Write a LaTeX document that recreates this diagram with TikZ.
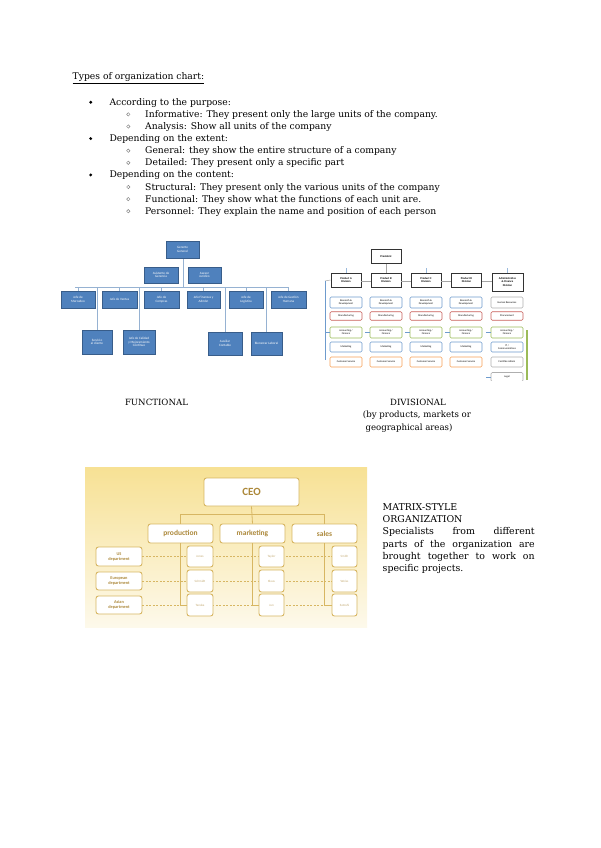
\documentclass[tikz,border=0pt]{standalone}
\usepackage{fontspec}
\setmainfont{DejaVu Serif}
\newfontfamily\chartfont{Carlito}
\usetikzlibrary{positioning,calc}
\definecolor{FuncBlue}{RGB}{79,129,189}
\definecolor{FuncEdge}{RGB}{56,93,138}
\definecolor{FuncLine}{RGB}{150,178,210}
\definecolor{DivLine}{RGB}{165,165,165}
\definecolor{DivBlue}{RGB}{110,155,205}
\definecolor{DivRed}{RGB}{200,95,90}
\definecolor{DivGreen}{RGB}{155,187,89}
\definecolor{DivOrange}{RGB}{247,160,85}
\definecolor{DivGray}{RGB}{175,175,175}
\definecolor{MatrixGold}{RGB}{215,182,98}
\definecolor{MatrixText}{RGB}{172,136,58}
\definecolor{MatrixTop}{RGB}{247,225,148}
\definecolor{MatrixBottom}{RGB}{253,249,235}
\tikzset{
  bodytext/.style={anchor=base west,inner sep=0pt,font=\fontsize{9.2}{12.1}\selectfont},
  funcbox/.style={draw=FuncEdge,fill=FuncBlue,text=white,align=center,inner sep=0.5pt,
    font=\chartfont\fontsize{3.3}{3.7}\selectfont},
  funcline/.style={FuncLine,line width=0.8pt},
  divhead/.style={draw=black!80,line width=0.9pt,fill=white,align=center,inner sep=0.3pt,
    minimum width=30,minimum height=14,font=\chartfont\bfseries\fontsize{2.8}{3.1}\selectfont},
  divunit/.style={draw=#1,line width=0.6pt,rounded corners=1.2pt,fill=white,align=center,
    inner sep=0.2pt,minimum width=32,font=\chartfont\fontsize{2.6}{2.9}\selectfont},
  divline/.style={DivLine,line width=0.5pt},
  mxbox/.style={draw=MatrixGold,line width=0.9pt,rounded corners=2.5pt,fill=white,
    text=MatrixText,align=center,inner sep=0.5pt,font=\chartfont\bfseries},
  mxline/.style={MatrixGold,line width=0.8pt}
}
\begin{document}
\begin{tikzpicture}[x=1pt,y=-1pt]
\useasboundingbox (0,0) rectangle (600,848);

\node[bodytext] (title) at (72.5,79.5) {\underline{Types of organization chart:}};
\fill (90.7,102.3) circle (1.6pt);
\node[bodytext] (purpose) at (109.3,105.3) {According to the purpose:};
\draw[gray,line width=0.45pt] (128.3,114.4) circle (1.7pt);
\node[bodytext] (informative) at (145,117.4) {Informative: They present only the large units of the company.};
\draw[gray,line width=0.45pt] (128.3,126.5) circle (1.7pt);
\node[bodytext] (analysis) at (145,129.5) {Analysis: Show all units of the company};
\fill (90.7,138.6) circle (1.6pt);
\node[bodytext] (extent) at (109.3,141.6) {Depending on the extent:};
\draw[gray,line width=0.45pt] (128.3,150.7) circle (1.7pt);
\node[bodytext] (general) at (145,153.7) {General: they show the entire structure of a company};
\draw[gray,line width=0.45pt] (128.3,162.8) circle (1.7pt);
\node[bodytext] (detailed) at (145,165.8) {Detailed: They present only a specific part};
\fill (90.7,174.9) circle (1.6pt);
\node[bodytext] (content) at (109.3,177.9) {Depending on the content:};
\draw[gray,line width=0.45pt] (128.3,187) circle (1.7pt);
\node[bodytext] (structural) at (145,190) {Structural: They present only the various units of the company};
\draw[gray,line width=0.45pt] (128.3,199.1) circle (1.7pt);
\node[bodytext] (functional) at (145,202.1) {Functional: They show what the functions of each unit are.};
\draw[gray,line width=0.45pt] (128.3,211.2) circle (1.7pt);
\node[bodytext] (personnel) at (145,214.2) {Personnel: They explain the name and position of each person};

% functional chart
\coordinate (fbus) at (0,287);
\draw[funcline] (75,287) -- (289,287);
\draw[funcline] (183,258) -- (183,287);
\node[funcbox,minimum width=33,minimum height=17] (gerente) at (182.5,249.5) {Gerente\\General};
\node[funcbox,minimum width=34,minimum height=16] (asistente) at (161,275) {Asistente de\\Gerencia};
\node[funcbox,minimum width=33,minimum height=16] (asesor) at (204.5,275) {Asesor\\Jurídico};
\node[funcbox,minimum width=34,minimum height=17] (mercadeo) at (78,299.5) {Jefe de\\Mercadeo};
\node[funcbox,minimum width=35,minimum height=17] (ventas) at (119.5,299.5) {Jefe de Ventas};
\node[funcbox,minimum width=35,minimum height=17] (compras) at (161.5,299.5) {Jefe de\\Compras};
\node[funcbox,minimum width=33,minimum height=17] (finanzas) at (203.5,299.5) {Jefe Finanzas y\\Admón};
\node[funcbox,minimum width=34,minimum height=17] (logistica) at (246,299.5) {Jefe de\\Logística};
\node[funcbox,minimum width=35,minimum height=17] (humana) at (288.5,299.5) {Jefe de Gestión\\Humana};
\node[funcbox,minimum width=30,minimum height=24] (cliente) at (97,342) {Servicio\\al cliente};
\node[funcbox,minimum width=32,minimum height=24] (calidad) at (139,342) {Jefe de Calidad\\y Mejoramiento\\Continuo};
\node[funcbox,minimum width=34,minimum height=23] (contable) at (225,343.5) {Auxiliar\\Contable};
\node[funcbox,minimum width=31,minimum height=23] (bienestar) at (266.5,343.5) {Bienestar Laboral};
\foreach \n in {mercadeo,ventas,compras,finanzas,logistica,humana}
  \draw[funcline] (\n.north) -- (\n.north |- fbus);
\foreach \n in {cliente,calidad,contable,bienestar}
  \draw[funcline] (\n.north) -- (\n.north |- fbus);
\node[anchor=base] (funclabel) at (156.5,405) {\fontsize{8.6}{12.1}\selectfont FUNCTIONAL};

% divisional chart
\begin{scope}
\clip (320,240) rectangle (545,380);
\node[divhead] (president) at (386,256.5) {President};
\node[divhead] (divA) at (346,280) {Product A\\Division};
\node[divhead] (divB) at (386,280) {Product B\\Division};
\node[divhead] (divC) at (426,280) {Product C\\Division};
\node[divhead] (divD) at (466.5,280) {Product D\\Division};
\node[divhead,minimum width=31,minimum height=18] (divE) at (507.5,282) {Administrative\\\& Finance\\Division};
\draw[divline] (president.south) -- (divB.north);
\foreach \n in {divA,divC,divE}
  \draw[DivBlue!70,line width=0.5pt] (\n.north) -- ++(0,-5);
\draw[divline] (325,281) -- (divA.west);
\draw[divline] (divA.east |- 0,281) -- (divB.west |- 0,281);
\draw[divline] (divB.east |- 0,281) -- (divC.west |- 0,281);
\draw[divline] (divC.east |- 0,281) -- (divD.west |- 0,281);
\draw[divline] (divD.east |- 0,281) -- (divE.west |- 0,281);
\draw[DivBlue,line width=0.5pt] (325,281) -- (325,360);
\foreach \c/\x in {A/346,B/386,C/426,D/466} {
  \node[divunit=DivBlue,minimum height=11] (rd\c) at (\x,302.5) {Research \&\\Development};
  \node[divunit=DivRed,minimum height=8.5] (mf\c) at (\x,316) {Manufacturing};
  \node[divunit=DivGreen,minimum height=11] (ac\c) at (\x,332.5) {Accounting /\\Finance};
  \node[divunit=DivBlue,minimum height=10] (mk\c) at (\x,347) {Marketing};
  \node[divunit=DivOrange,minimum height=10] (cs\c) at (\x,362) {Customer Service};
  \draw[DivBlue,line width=0.5pt] (ac\c.west) -- ++(-5,0);
}
\node[divunit=DivGray,minimum height=11] (hrE) at (507,302.5) {Human Resources};
\node[divunit=DivRed,minimum height=8.5] (prE) at (507,316) {Procurement};
\node[divunit=DivGreen,minimum height=11] (acE) at (507,332.5) {Accounting /\\Finance};
\node[divunit=DivBlue,minimum height=10] (itE) at (507,347) {IT /\\Communications};
\node[divunit=DivGray,minimum height=10] (faE) at (507,362) {Facilities Admin};
\node[divunit=DivGray,minimum height=9] (leE) at (507,377) {Legal};
\draw[DivBlue,line width=0.5pt] (acE.west) -- ++(-5,0);
\draw[DivBlue,line width=0.5pt] (leE.west) -- ++(-5,0);
\draw[DivGreen,line width=1.4pt] (527,330) -- (527,380);
\end{scope}
\node[anchor=base] (divlabel) at (418,405) {\fontsize{8.6}{12.1}\selectfont DIVISIONAL};
\node[anchor=base] (divsub) at (417,417.5) {\fontsize{8.6}{12.1}\selectfont (by products, markets or};
\node[anchor=base] (divsubb) at (409,430) {\fontsize{8.6}{12.1}\selectfont geographical areas)};

% matrix chart
\shade[top color=MatrixTop,bottom color=MatrixBottom] (85,467) rectangle (367,627);
\node[mxbox,minimum width=95,minimum height=28,font=\chartfont\bfseries\fontsize{11}{12}\selectfont] (ceo) at (251.5,492) {CEO};
\node[mxbox,minimum width=65,minimum height=19,font=\chartfont\bfseries\fontsize{7.5}{8}\selectfont] (production) at (180.5,533.5) {production};
\node[mxbox,minimum width=65,minimum height=19,font=\chartfont\bfseries\fontsize{7.5}{8}\selectfont] (marketing) at (252.5,533.5) {marketing};
\node[mxbox,minimum width=65,minimum height=19,font=\chartfont\bfseries\fontsize{7.5}{8}\selectfont] (sales) at (324.5,533.5) {sales};
\draw[mxline] (ceo.south) -- (marketing.north);
\draw[mxline] (production.north) -- ++(0,-9) -| (sales.north);
\node[mxbox,minimum width=46,minimum height=19,font=\chartfont\bfseries\fontsize{4.3}{5}\selectfont] (us) at (119,556.5) {US\\department};
\node[mxbox,minimum width=46,minimum height=18,font=\chartfont\bfseries\fontsize{4.3}{5}\selectfont] (europe) at (119,581) {European\\department};
\node[mxbox,minimum width=46,minimum height=18,font=\chartfont\bfseries\fontsize{4.3}{5}\selectfont] (asia) at (119,605) {Asian\\department};
\draw[mxline,dashed,dash pattern=on 2pt off 1.5pt] (us.east) -- (344,556.5);
\draw[mxline,dashed,dash pattern=on 2pt off 1.5pt] (europe.east) -- (344,581);
\draw[mxline,dashed,dash pattern=on 2pt off 1.5pt] (asia.east) -- (344,605);
\draw[mxline] (production.south) |- (200,605);
\draw[mxline] (marketing.south) |- (271.5,605);
\draw[mxline] (sales.south) |- (344.5,605);
\foreach \col/\x/\w/\a/\b/\c in {p/200/26/Jones/Schmidt/Tanaka, m/271.5/25/Taylor/Klaus/Jun, s/344.5/25/Smith/Weiss/Satoshi} {
  \node[mxbox,minimum width=\w,minimum height=21,font=\chartfont\fontsize{3.2}{3.6}\selectfont,text=MatrixText!70] (\col1) at (\x,556.5) {\a};
  \node[mxbox,minimum width=\w,minimum height=22,font=\chartfont\fontsize{3.2}{3.6}\selectfont,text=MatrixText!70] (\col2) at (\x,581) {\b};
  \node[mxbox,minimum width=\w,minimum height=22,font=\chartfont\fontsize{3.2}{3.6}\selectfont,text=MatrixText!70] (\col3) at (\x,605) {\c};
}
\node[anchor=north west,inner sep=0pt,text width=152,align=justify,font=\fontsize{9.4}{12.3}\selectfont] (matrixtext) at (382.5,503)
  {MATRIX-STYLE\\ORGANIZATION\\Specialists from different\linebreak parts of the organization are\linebreak brought together to work on\linebreak specific projects.};
\end{tikzpicture}
\end{document}
